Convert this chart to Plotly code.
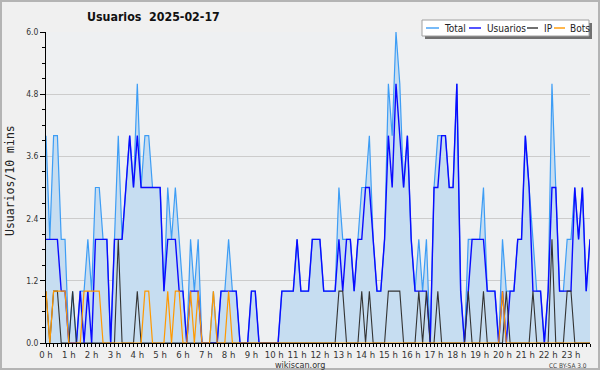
import plotly.graph_objects as go

# 10-minute slots over the day (0..143)
slots = list(range(144))
hour_ticks = [h * 6 for h in range(24)]
hour_labels = [f"{h} h" for h in range(24)]
y_ticks = [0, 1.2, 2.4, 3.6, 4.8, 6.0]
y_labels = ["0.0", "1.2", "2.4", "3.6", "4.8", "6.0"]

total = [4,2,4,4,2,2,0,1,0,1,1,2,1,3,3,2,2,0,2,4,2,3,4,3,
         5,3,4,4,3,3,3,1,3,2,3,2,1,0,2,1,2,0,0,0,1,0,1,1,
         2,1,1,0,0,0,1,1,0,0,0,0,0,0,1,1,1,1,2,1,1,1,2,2,
         2,1,1,1,1,3,2,2,2,1,2,3,3,4,2,1,1,2,5,4,6,5,3,4,
         2,1,2,1,2,0,3,4,4,4,3,3,5,1,0,2,2,2,2,3,1,1,1,0,
         2,1,1,1,2,2,4,3,2,1,1,0,1,5,3,1,1,2,2,3,2,3,1,2]
usuarios = [2,2,2,2,1,1,0,0,0,1,0,1,0,2,2,2,2,0,2,2,2,3,4,3,
            4,3,3,3,3,3,3,1,2,2,2,1,1,0,1,1,1,0,0,0,0,0,1,1,
            1,1,1,0,0,0,1,1,0,0,0,0,0,0,1,1,1,1,2,1,1,1,2,2,
            2,1,1,1,1,2,1,2,2,1,2,2,3,3,2,1,1,2,4,3,5,4,3,4,
            2,1,1,1,1,0,3,3,4,4,3,3,5,1,0,1,2,2,2,2,1,1,1,0,
            1,0,1,1,2,2,4,3,1,1,1,0,1,3,3,1,1,1,1,3,2,3,1,2]
ip = [1,0,1,1,0,0,0,1,0,0,0,0,0,0,0,0,0,0,0,2,0,0,0,0,
      1,0,0,0,0,0,0,0,0,0,0,0,0,0,0,0,0,0,0,0,0,0,0,0,
      0,0,0,0,0,0,0,0,0,0,0,0,0,0,0,0,0,0,0,0,0,0,0,0,
      0,0,0,0,0,1,1,0,0,0,0,1,0,1,0,0,0,0,1,1,1,1,0,0,
      0,0,1,0,1,0,0,1,0,0,0,0,0,0,0,1,0,0,0,1,0,0,0,0,
      0,1,0,0,0,0,0,0,1,0,0,0,0,2,0,0,0,1,1,0,0,0,0,0]
bots = [1,0,1,1,1,1,0,0,0,0,1,1,1,1,1,0,0,0,0,0,0,0,0,0,
        0,0,1,1,0,0,0,0,1,0,1,1,0,0,1,0,1,0,0,0,1,0,0,0,
        1,0,0,0,0,0,0,0,0,0,0,0,0,0,0,0,0,0,0,0,0,0,0,0,
        0,0,0,0,0,0,0,0,0,0,0,0,0,0,0,0,0,0,0,0,0,0,0,0,
        0,0,0,0,0,0,0,0,0,0,0,0,0,0,0,0,0,0,0,0,0,0,0,0,
        1,0,0,0,0,0,0,0,0,0,0,0,0,0,0,0,0,0,0,0,0,0,0,0]

series_names = ["Total", "Usuarios", "IP", "Bots"]
series_colors = ["#3d9df5", "#0a0aff", "#333333", "#ff9900"]

FONT = "DejaVu Sans Condensed, Liberation Sans Narrow, DejaVu Sans, sans-serif"

fig = go.Figure()
fig.add_trace(go.Scatter(x=slots, y=total, mode="lines", fill="tozeroy",
                         fillcolor="#c6ddf1", line=dict(color=series_colors[0], width=1.2),
                         name="Total", hoverinfo="skip"))
fig.add_trace(go.Scatter(x=slots, y=usuarios, mode="lines",
                         line=dict(color=series_colors[1], width=1.4), name="Usuarios", hoverinfo="skip"))
fig.add_trace(go.Scatter(x=slots, y=ip, mode="lines",
                         line=dict(color=series_colors[2], width=1.1), name="IP", hoverinfo="skip"))
fig.add_trace(go.Scatter(x=slots, y=bots, mode="lines",
                         line=dict(color=series_colors[3], width=1.2), name="Bots", hoverinfo="skip"))

L, R, T, B = 46, 10, 32, 27
W, H = 600, 370
pw, ph = W - L - R, H - T - B

def px(x):
    return (x - L) / pw

def py(y):
    return (H - B - y) / ph

shapes = []
annotations = []

# outer frame
shapes.append(dict(type="rect", xref="paper", yref="paper",
                   x0=px(1), x1=px(599), y0=py(369), y1=py(1),
                   line=dict(color="#b4b4b4", width=2), fillcolor="rgba(0,0,0,0)", layer="below"))

# legend box with shadow
shapes.append(dict(type="rect", xref="paper", yref="paper",
                   x0=px(425), x1=px(592), y0=py(39), y1=py(23),
                   line=dict(width=0), fillcolor="#707070"))
shapes.append(dict(type="rect", xref="paper", yref="paper",
                   x0=px(422), x1=px(589), y0=py(36), y1=py(20),
                   line=dict(color="#a0a0a0", width=1), fillcolor="white"))
leg_items = [(426, 439, 442), (469, 481, 485), (527, 538, 542), (554, 565, 568)]
for (lx0, lx1, tx), name, col in zip(leg_items, series_names, series_colors):
    shapes.append(dict(type="line", xref="paper", yref="paper",
                       x0=px(lx0), x1=px(lx1), y0=py(28), y1=py(28),
                       line=dict(color=col, width=1.4)))
    annotations.append(dict(xref="paper", yref="paper", x=px(tx), y=py(28.5),
                            xanchor="left", yanchor="middle", showarrow=False,
                            text=name, font=dict(family=FONT, size=10, color="#222")))

# title
annotations.append(dict(xref="paper", yref="paper", x=px(85), y=py(17),
                        xanchor="left", yanchor="middle", showarrow=False,
                        text="<b>Usuarios&nbsp;&nbsp;2025-02-17</b>",
                        font=dict(family=FONT, size=12.3, color="#111")))
# y-axis title
annotations.append(dict(xref="paper", yref="paper", x=px(10), y=py(181),
                        xanchor="center", yanchor="middle", showarrow=False, textangle=-90,
                        text="Usuarios/10 mins",
                        font=dict(family="DejaVu Sans Mono, monospace", size=11.5, color="#222")))
# footer
annotations.append(dict(xref="paper", yref="paper", x=px(300), y=py(365),
                        xanchor="center", yanchor="middle", showarrow=False,
                        text="wikiscan.org", font=dict(family=FONT, size=9, color="#333")))
annotations.append(dict(xref="paper", yref="paper", x=px(589), y=py(366),
                        xanchor="right", yanchor="middle", showarrow=False,
                        text="CC BY-SA 3.0", font=dict(family=FONT, size=6.5, color="#444")))

fig.update_layout(
    width=W, height=H,
    margin=dict(l=L, r=R, t=T, b=B),
    paper_bgcolor="#f0f0f0", plot_bgcolor="#eef0f2",
    showlegend=False, hovermode=False,
    shapes=shapes, annotations=annotations,
    xaxis=dict(range=[0, 143], tickmode="array", tickvals=hour_ticks, ticktext=hour_labels,
               showgrid=False, zeroline=False, showline=True, linecolor="black", linewidth=1,
               ticks="outside", ticklen=3, tickcolor="black",
               minor=dict(dtick=1, tick0=0, ticks="outside", ticklen=3, tickcolor="black", showgrid=False),
               tickfont=dict(family=FONT, size=9.5, color="#333")),
    yaxis=dict(range=[0, 6], tickmode="array", tickvals=y_ticks, ticktext=y_labels,
               showgrid=True, gridcolor="#cccccc", gridwidth=1, zeroline=False,
               showline=True, linecolor="black", linewidth=1,
               ticks="outside", ticklen=5, tickcolor="black",
               minor=dict(dtick=0.3, tick0=0, ticks="outside", ticklen=3, tickcolor="black", showgrid=False),
               tickfont=dict(family=FONT, size=8.5, color="#333")),
)

fig.write_html("out.html", config={"displayModeBar": False, "staticPlot": True},
               post_script="document.body.style.margin='0';document.body.style.padding='0';"
                           "document.documentElement.style.margin='0';document.body.style.background='#f0f0f0';")
